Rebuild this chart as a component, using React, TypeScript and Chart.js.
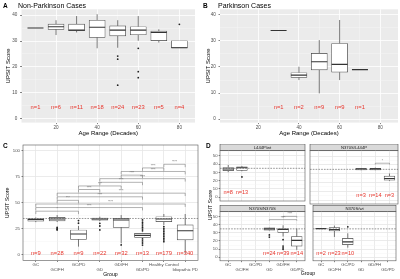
import React, { useEffect, useRef } from 'react';
import { Chart, registerables } from 'chart.js';
Chart.register(...registerables);

const FONT = '"Liberation Sans", Arial, Helvetica, sans-serif';
const RED = '#E8352C';

// ---------- Panel A : Non-Parkinson cases ----------
const ageA = [10, 20, 30, 40, 50, 60, 70, 80];
const nA = [1, 6, 11, 18, 24, 23, 5, 4];
const lowA = [35, 32.3, 33.3, 27.2, 27.4, 30.1, 29.4, 27.3];
const q1A = [35, 34.5, 34, 31.4, 32, 32.4, 30.1, 27.4];
const medA = [35, 35.5, 34.2, 35.3, 34.2, 34.2, 33.3, 27.4];
const q3A = [35, 36.5, 36.5, 38, 35.8, 35.5, 33.8, 30.1];
const highA = [35, 38, 39.6, 40.3, 38, 39.6, 34.5, 30.1];
const outA = [[], [], [], [], [24.2, 23, 13], [27.2, 18.2, 15.9], [], [36.4]];

// ---------- Panel B : Parkinson cases ----------
const ageB = [30, 40, 50, 60, 70];
const nB = [1, 2, 9, 9, 1];
const lowB = [34, 15, 9.9, 15, 19];
const q1B = [34, 16, 18.9, 18, 19];
const medB = [34, 16.9, 22, 21, 19];
const q3B = [34, 17.8, 25.2, 29, 19];
const highB = [34, 20.1, 30.3, 38, 19];
const outB: number[][] = [[], [], [], [], []];

// ticks for A / B
const ageTicks = [10, 20, 30, 40, 50, 60, 70, 80];
const scoreTicksAB = [0, 5, 10, 15, 20, 25, 30, 35, 40];

// ---------- Panel C : groups ----------
const groupsC = ['GC', 'GC/FH', 'GC/PD', 'GD', 'GD/FH', 'GD/PD', 'Healthy Control', 'Idiopathic PD'];
const nC = [9, 28, 9, 22, 32, 13, 179, 340];
const lowC = [31.5, 31.6, 8, 32.6, 11.2, 16.9, 28.8, 1.6];
const q1C = [32.5, 32.6, 15, 33.5, 26.5, 16.9, 32, 14.4];
const medC = [34, 34.5, 20.1, 34.5, 33.5, 18.8, 34.5, 23.3];
const q3C = [35, 36.1, 24, 35.5, 35.1, 20.8, 36.7, 28.8];
const highC = [36, 38.3, 27.8, 36.7, 38.3, 20.8, 39.3, 39.3];
const outC = [
  [],
  [26.5, 25.6, 24.6, 24],
  [33, 30.5],
  [30.4, 27.8, 24],
  [9.6],
  [33.6, 31.5, 29.8, 28, 26.4, 24.8, 23.2, 15.4, 13.5, 11.5, 9.5],
  [27.2, 25.6, 24, 22.4, 20.8, 19.2, 17.6, 16, 14.4, 12.8],
  [],
];
const scoreTicksC = [0, 12.5, 25, 37.5, 50, 62.5, 75, 87.5, 100];
const bracketFromC = [0, 0, 0, 1, 1, 1, 2, 2, 3, 3, 4, 4, 5, 6];
const bracketToC = [2, 5, 7, 2, 5, 7, 3, 4, 5, 7, 5, 7, 6, 7];
const bracketYC = [42, 45.5, 48.9, 52.4, 55.8, 59.3, 62.8, 66.2, 69.7, 73.2, 76.6, 80.1, 83.5, 87];
const bracketLabelC = ['*', '****', '****', '***', '****', '****', '****', '***', '****', '****', '****', '****', '****', '****'];
const refScore = 35;

// ---------- Panel D : genotype facets ----------
const groupsD = ['GC', 'GC/FH', 'GC/PD', 'GD', 'GD/FH', 'GD/PD'];
const facetTitles = ['L444P/wt', 'N370S/L444P', 'N370S/N370S', 'N370S/wt'];
const scoreTicksD = [0, 5, 10, 15, 20, 25, 30, 35, 40, 45, 50, 55];

const idxTL = [0, 1];
const nTL = [8, 13];
const lowTL = [30.3, 31.5];
const q1TL = [32.2, 32.5];
const medTL = [34.1, 35.6];
const q3TL = [36, 36.7];
const highTL = [39, 37.8];
const outTL = [[], [24.6]];

const idxTR = [3, 4, 5];
const nTR = [3, 14, 3];
const lowTR = [34, 34, 21.9];
const q1TR = [34.5, 34.3, 22.7];
const medTR = [35.5, 35.5, 24.6];
const q3TR = [36, 36.2, 27.3];
const highTR = [36.5, 37, 30.3];
const outTR: number[][] = [[], [], []];

const idxBL = [3, 4, 5];
const nBL = [24, 39, 14];
const lowBL = [33, 25.5, 9];
const q1BL = [33.5, 30.7, 13.7];
const medBL = [35, 34.3, 20.8];
const q3BL = [36.2, 35.5, 25.5];
const highBL = [36.6, 39.4, 35.5];
const outBL = [[27.5, 24.8], [21.6, 13.7, 11.5, 9.8], []];

const idxBR = [0, 1, 2];
const nBR = [2, 23, 10];
const lowBR = [35.2, 25, 11.8];
const q1BR = [35.2, 32.6, 15.4];
const medBR = [35.3, 34.3, 18.9];
const q3BR = [35.5, 36.6, 23.2];
const highBR = [35.5, 39, 29.5];
const outBR = [[], [], [37.5]];

const bracketsTR = [{ a: 4, b: 5, y: 42, label: '*' }];
const bracketsBL = [
  { a: 3, b: 5, y: 46.5, label: '****' },
  { a: 4, b: 5, y: 50.5, label: '****' },
];

// ---------- helpers ----------
type Box = { x: number; n: number; low: number; q1: number; med: number; q3: number; high: number; out: number[] };
type Bracket = { a: number; b: number; y: number; label: string };

function mkBoxes(xs: number[], n: number[], low: number[], q1: number[], med: number[], q3: number[], high: number[], out: number[][]): Box[] {
  return xs.map((x, i) => ({ x, n: n[i], low: low[i], q1: q1[i], med: med[i], q3: q3[i], high: high[i], out: out[i] }));
}

interface Spec {
  x0: number; y0: number; w: number; h: number;
  l: number; t: number; r: number; b: number;
  xMin: number; xMax: number; xTicks: number[]; xMajor: (v: number) => boolean; xLabel: (v: number) => string | string[]; showX: boolean;
  yMin: number; yMax: number; yTicks: number[]; yMajor: (v: number) => boolean; yLabel: (v: number) => string; showY: boolean;
  theme: 'gray' | 'bw';
  tickFont: number; xLineH: number; tl: number; xPad: number; yPad: number;
  xTitle?: string; yTitle?: string; titleFont?: number; xTitlePad?: number; yTitlePad?: number;
  boxes: Box[]; boxPx: number; nY: number; nFont: number;
  dashY?: number; brackets?: Bracket[]; strip?: string; stripH?: number; stripFont?: number;
}

function extras(s: Spec) {
  return {
    id: 'boxExtras',
    beforeDraw(chart: any) {
      const { ctx, chartArea: a } = chart;
      ctx.save();
      ctx.fillStyle = s.theme === 'gray' ? '#EBEBEB' : '#FFFFFF';
      ctx.fillRect(a.left, a.top, a.right - a.left, a.bottom - a.top);
      if (s.strip) {
        const h = s.stripH || 6;
        ctx.fillStyle = '#D9D9D9';
        ctx.fillRect(a.left, a.top - h, a.right - a.left, h);
        ctx.strokeStyle = '#333333';
        ctx.lineWidth = 0.5;
        ctx.strokeRect(a.left, a.top - h, a.right - a.left, h);
        ctx.fillStyle = '#1A1A1A';
        ctx.font = `${s.stripFont || 4.2}px ${FONT}`;
        ctx.textAlign = 'center';
        ctx.textBaseline = 'middle';
        ctx.fillText(s.strip, (a.left + a.right) / 2, a.top - h / 2 + 0.3);
      }
      ctx.restore();
    },
    beforeDatasetsDraw(chart: any) {
      const { ctx, chartArea: a, scales } = chart;
      const x = scales.x, y = scales.y;
      ctx.save();
      ctx.beginPath();
      ctx.rect(a.left, a.top, a.right - a.left, a.bottom - a.top);
      ctx.clip();
      ctx.strokeStyle = '#444444';
      ctx.lineWidth = 0.7;
      for (const b of s.boxes) {
        const cx = x.getPixelForValue(b.x);
        ctx.beginPath();
        ctx.moveTo(cx, y.getPixelForValue(b.q3));
        ctx.lineTo(cx, y.getPixelForValue(b.high));
        ctx.moveTo(cx, y.getPixelForValue(b.q1));
        ctx.lineTo(cx, y.getPixelForValue(b.low));
        ctx.stroke();
      }
      ctx.restore();
    },
    afterDatasetsDraw(chart: any) {
      const { ctx, chartArea: a, scales } = chart;
      const x = scales.x, y = scales.y;
      ctx.save();
      ctx.beginPath();
      ctx.rect(a.left, a.top, a.right - a.left, a.bottom - a.top);
      ctx.clip();
      // medians
      ctx.strokeStyle = '#333333';
      ctx.lineWidth = 1.1;
      for (const b of s.boxes) {
        const cx = x.getPixelForValue(b.x);
        const my = y.getPixelForValue(b.med);
        ctx.beginPath();
        ctx.moveTo(cx - s.boxPx / 2, my);
        ctx.lineTo(cx + s.boxPx / 2, my);
        ctx.stroke();
      }
      // reference dashed line
      if (s.dashY !== undefined) {
        const dy = y.getPixelForValue(s.dashY);
        ctx.strokeStyle = '#555555';
        ctx.lineWidth = 0.6;
        ctx.setLineDash([1.6, 1.2]);
        ctx.beginPath();
        ctx.moveTo(a.left, dy);
        ctx.lineTo(a.right, dy);
        ctx.stroke();
        ctx.setLineDash([]);
      }
      // significance brackets
      if (s.brackets) {
        const tip = (a.bottom - a.top) * 0.025;
        for (const br of s.brackets) {
          const x1 = x.getPixelForValue(br.a);
          const x2 = x.getPixelForValue(br.b);
          const by = y.getPixelForValue(br.y);
          ctx.strokeStyle = '#666666';
          ctx.lineWidth = 0.5;
          ctx.beginPath();
          ctx.moveTo(x1, by + tip);
          ctx.lineTo(x1, by);
          ctx.lineTo(x2, by);
          ctx.lineTo(x2, by + tip);
          ctx.stroke();
          ctx.fillStyle = '#666666';
          ctx.font = `3px ${FONT}`;
          ctx.textAlign = 'center';
          ctx.textBaseline = 'bottom';
          ctx.fillText(br.label, (x1 + x2) / 2, by - 0.2);
        }
      }
      // n labels
      ctx.fillStyle = RED;
      ctx.font = `${s.nFont}px ${FONT}`;
      ctx.textAlign = 'center';
      ctx.textBaseline = 'middle';
      for (const b of s.boxes) {
        ctx.fillText(`n=${b.n}`, x.getPixelForValue(b.x), y.getPixelForValue(s.nY));
      }
      ctx.restore();
    },
    afterDraw(chart: any) {
      if (s.theme !== 'bw') return;
      const { ctx, chartArea: a } = chart;
      ctx.save();
      ctx.strokeStyle = '#555555';
      ctx.lineWidth = 0.6;
      ctx.strokeRect(a.left, a.top, a.right - a.left, a.bottom - a.top);
      ctx.restore();
    },
  };
}

function buildConfig(s: Spec): any {
  const majorGrid = s.theme === 'gray' ? '#FFFFFF' : '#E6E6E6';
  const minorGrid = s.theme === 'gray' ? '#F7F7F7' : '#F2F2F2';
  const xAxisH = s.y0 + s.h - s.b;
  const yAxisW = s.l - s.x0;
  return {
    type: 'bar',
    data: {
      datasets: [
        {
          type: 'bar',
          data: s.boxes.map((b) => ({ x: b.x, y: [b.q1, b.q3] })),
          backgroundColor: '#FFFFFF',
          borderColor: '#444444',
          borderWidth: 0.7,
          borderSkipped: false,
          barThickness: s.boxPx,
          grouped: false,
          order: 2,
        },
        {
          type: 'scatter',
          data: s.boxes.flatMap((b) => b.out.map((v) => ({ x: b.x, y: v }))),
          pointRadius: 0.9,
          pointBackgroundColor: '#222222',
          pointBorderWidth: 0,
          order: 1,
        },
      ],
    },
    options: {
      animation: false,
      responsive: false,
      maintainAspectRatio: false,
      devicePixelRatio: 1,
      events: [],
      layout: { padding: { left: 0, top: s.t - s.y0, right: s.x0 + s.w - s.r, bottom: 0 } },
      plugins: { legend: { display: false }, tooltip: { enabled: false }, title: { display: false } },
      scales: {
        x: {
          type: 'linear',
          min: s.xMin,
          max: s.xMax,
          offset: false,
          afterBuildTicks: (sc: any) => { sc.ticks = s.xTicks.map((v) => ({ value: v })); },
          afterFit: (sc: any) => {
            sc.height = xAxisH;
            sc.paddingLeft = 0; sc.paddingRight = 0; sc.paddingTop = 0; sc.paddingBottom = 0;
          },
          ticks: {
            display: s.showX,
            autoSkip: false,
            maxRotation: 0,
            minRotation: 0,
            padding: s.xPad,
            color: '#4D4D4D',
            font: { family: FONT, size: s.tickFont, lineHeight: s.xLineH },
            callback: (v: number) => s.xLabel(v),
          },
          grid: {
            offset: false,
            drawTicks: s.showX,
            tickLength: s.tl,
            color: (c: any) => (c.tick && s.xMajor(c.tick.value) ? majorGrid : minorGrid),
            lineWidth: (c: any) => (c.tick && s.xMajor(c.tick.value) ? 0.8 : 0.4),
            tickColor: (c: any) => (c.tick && s.xMajor(c.tick.value) ? '#333333' : 'rgba(0,0,0,0)'),
            tickWidth: 0.6,
          },
          border: { display: false },
          title: s.xTitle
            ? { display: true, text: s.xTitle, color: '#000000', font: { family: FONT, size: s.titleFont, lineHeight: 1 }, padding: { top: 0, bottom: s.xTitlePad } }
            : { display: false },
        },
        y: {
          type: 'linear',
          min: s.yMin,
          max: s.yMax,
          afterBuildTicks: (sc: any) => { sc.ticks = s.yTicks.map((v) => ({ value: v })); },
          afterFit: (sc: any) => {
            sc.width = yAxisW;
            sc.paddingLeft = 0; sc.paddingRight = 0; sc.paddingTop = 0; sc.paddingBottom = 0;
          },
          ticks: {
            display: s.showY,
            autoSkip: false,
            padding: s.yPad,
            color: '#4D4D4D',
            font: { family: FONT, size: s.tickFont, lineHeight: 1.2 },
            callback: (v: number) => s.yLabel(v),
          },
          grid: {
            drawTicks: s.showY,
            tickLength: s.tl,
            color: (c: any) => (c.tick && s.yMajor(c.tick.value) ? majorGrid : minorGrid),
            lineWidth: (c: any) => (c.tick && s.yMajor(c.tick.value) ? 0.8 : 0.4),
            tickColor: (c: any) => (c.tick && s.yMajor(c.tick.value) ? '#333333' : 'rgba(0,0,0,0)'),
            tickWidth: 0.6,
          },
          border: { display: false },
          title: s.yTitle
            ? { display: true, text: s.yTitle, color: '#000000', font: { family: FONT, size: s.titleFont, lineHeight: 1 }, padding: { top: s.yTitlePad, bottom: 0 } }
            : { display: false },
        },
      },
    },
    plugins: [extras(s)],
  };
}

const lab10 = (v: number) => (v % 10 === 0 ? String(v) : '');
const lab20 = (v: number) => (v % 20 === 0 ? String(v) : '');
const dodge = (cats: string[]) => (v: number) => {
  const i = Math.round(v);
  const t = cats[i] ?? '';
  return i % 2 === 0 ? [t] : ['', t];
};

const specA: Spec = {
  x0: 0, y0: 0, w: 200, h: 140, l: 21.5, t: 9.3, r: 195, b: 122.6,
  xMin: 3.2, xMax: 87.6, xTicks: ageTicks, xMajor: (v) => v % 20 === 0, xLabel: lab20, showX: true,
  yMin: -1.4, yMax: 42.2, yTicks: scoreTicksAB, yMajor: (v) => v % 10 === 0, yLabel: lab10, showY: true,
  theme: 'gray', tickFont: 4.6, xLineH: 1.2, tl: 1.5, xPad: 1, yPad: 2.7,
  xTitle: 'Age Range (Decades)', yTitle: 'UPSIT Score', titleFont: 6, xTitlePad: 4, yTitlePad: 5,
  boxes: mkBoxes(ageA, nA, lowA, q1A, medA, q3A, highA, outA), boxPx: 16, nY: 4.5, nFont: 5.8,
};

const specB: Spec = {
  x0: 200, y0: 0, w: 200, h: 140, l: 220, t: 9.3, r: 398, b: 122.6,
  xMin: 1.2, xMax: 88.7, xTicks: ageTicks, xMajor: (v) => v % 20 === 0, xLabel: lab20, showX: true,
  yMin: -1.3, yMax: 42.1, yTicks: scoreTicksAB, yMajor: (v) => v % 10 === 0, yLabel: lab10, showY: true,
  theme: 'gray', tickFont: 4.6, xLineH: 1.2, tl: 1.5, xPad: 1, yPad: 2.7,
  xTitle: 'Age Range (Decades)', yTitle: 'UPSIT Score', titleFont: 6, xTitlePad: 4, yTitlePad: 5,
  boxes: mkBoxes(ageB, nB, lowB, q1B, medB, q3B, highB, outB), boxPx: 16, nY: 4.6, nFont: 5.8,
};

const specC: Spec = {
  x0: 0, y0: 140, w: 205, h: 139, l: 23, t: 145, r: 198, b: 260.5,
  xMin: -0.6, xMax: 7.6, xTicks: groupsC.map((_, i) => i), xMajor: () => true, xLabel: dodge(groupsC), showX: true,
  yMin: -5.3, yMax: 105.5, yTicks: scoreTicksC, yMajor: (v) => v % 25 === 0, yLabel: (v) => (v % 25 === 0 ? String(v) : ''), showY: true,
  theme: 'bw', tickFont: 4.3, xLineH: 1.2, tl: 1.5, xPad: 0, yPad: 1.5,
  xTitle: 'Group', yTitle: 'UPSIT Score', titleFont: 5.2, xTitlePad: 1.4, yTitlePad: 4.7,
  boxes: mkBoxes(groupsC.map((_, i) => i), nC, lowC, q1C, medC, q3C, highC, outC), boxPx: 16, nY: 1.5, nFont: 5.8,
  dashY: refScore,
  brackets: bracketFromC.map((a, i) => ({ a, b: bracketToC[i], y: bracketYC[i], label: bracketLabelC[i] })),
};

function facet(x0: number, y0: number, w: number, h: number, l: number, t: number, r: number, b: number, showX: boolean, showY: boolean, title: string, stripH: number, boxes: Box[], nY: number, brackets?: Bracket[]): Spec {
  return {
    x0, y0, w, h, l, t, r, b,
    xMin: -0.6, xMax: 5.6, xTicks: groupsD.map((_, i) => i), xMajor: () => true, xLabel: dodge(groupsD), showX,
    yMin: -4.5, yMax: 56.5, yTicks: scoreTicksD, yMajor: (v) => v % 10 === 0, yLabel: lab10, showY,
    theme: 'bw', tickFont: 4.2, xLineH: 1.15, tl: 1.4, xPad: 0, yPad: 1.1,
    boxes, boxPx: 10.7, nY, nFont: 5.6,
    dashY: refScore, brackets, strip: title, stripH, stripFont: 4.2,
  };
}

const specTL = facet(213, 144, 96, 61, 220, 150.5, 308, 204, false, true, facetTitles[0], 6.5,
  mkBoxes(idxTL, nTL, lowTL, q1TL, medTL, q3TL, highTL, outTL), 5.5);
const specTR = facet(309, 144, 91, 61, 310, 150.5, 398, 204, false, false, facetTitles[1], 6.5,
  mkBoxes(idxTR, nTR, lowTR, q1TR, medTR, q3TR, highTR, outTR), 5.5, bracketsTR);
const specBL = facet(213, 205, 96, 74, 220, 211.5, 308, 260.8, true, true, facetTitles[2], 6,
  mkBoxes(idxBL, nBL, lowBL, q1BL, medBL, q3BL, highBL, outBL), 4, bracketsBL);
const specBR = facet(309, 205, 91, 74, 310, 211.5, 398, 260.8, true, false, facetTitles[3], 6,
  mkBoxes(idxBR, nBR, lowBR, q1BR, medBR, q3BR, highBR, outBR), 4);

const allSpecs = [specA, specB, specC, specTL, specTR, specBL, specBR];

function BoxChart({ spec }: { spec: Spec }) {
  const ref = useRef<HTMLCanvasElement>(null);
  useEffect(() => {
    const chart = new Chart(ref.current as HTMLCanvasElement, buildConfig(spec));
    return () => chart.destroy();
  }, [spec]);
  return (
    <canvas
      ref={ref}
      width={spec.w}
      height={spec.h}
      style={{ position: 'absolute', left: spec.x0, top: spec.y0, width: spec.w, height: spec.h }}
    />
  );
}

function Label({ x, y, text, size, bold, rotate, center }: { x: number; y: number; text: string; size: number; bold?: boolean; rotate?: boolean; center?: boolean }) {
  const tf = rotate ? 'translate(-50%, -50%) rotate(-90deg)' : center ? 'translate(-50%, -50%)' : 'translateY(-50%)';
  return (
    <div
      style={{
        position: 'absolute', left: x, top: y, transform: tf, fontFamily: FONT, fontSize: size,
        fontWeight: bold ? 700 : 400, lineHeight: 1, whiteSpace: 'nowrap', color: '#000', zIndex: 2,
      }}
    >
      {text}
    </div>
  );
}

export default function App() {
  return (
    <div style={{ position: 'absolute', left: 0, top: 0, width: 400, height: 279, background: '#FFFFFF', overflow: 'hidden' }}>
      {allSpecs.map((s, i) => (
        <BoxChart key={i} spec={s} />
      ))}
      <Label x={3} y={5.5} text="A" size={6.5} bold />
      <Label x={18} y={5} text="Non-Parkinson Cases" size={7} />
      <Label x={203} y={5.5} text="B" size={6.5} bold />
      <Label x={218} y={5} text="Parkinson Cases" size={7} />
      <Label x={3} y={146} text="C" size={6.5} bold />
      <Label x={206} y={145.5} text="D" size={6.5} bold />
      <Label x={211.3} y={205} text="UPSIT Score" size={5.2} rotate />
      <Label x={308} y={274} text="Group" size={5.2} center />
    </div>
  );
}
